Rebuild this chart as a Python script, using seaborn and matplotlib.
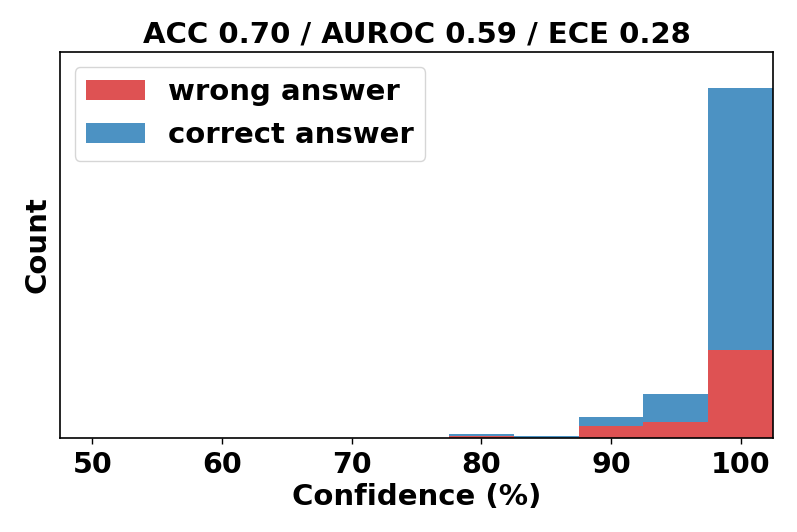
import matplotlib
matplotlib.use("Agg")
import matplotlib.pyplot as plt
import seaborn as sns
import pandas as pd
from matplotlib.patches import Patch

# Data (bin centers, counts)
bin_centers = [50, 55, 60, 65, 70, 75, 80, 85, 90, 95, 100]
wrong_counts = [0, 0, 0, 0, 0, 0, 5, 0, 34, 46, 251]
correct_counts = [0, 0, 0, 0, 0, 0, 6, 4, 26, 80, 749]
labels = ["wrong answer", "correct answer"]
title = "ACC 0.70 / AUROC 0.59 / ECE 0.28"
xticks = [50, 60, 70, 80, 90, 100]

df = pd.DataFrame({
    "conf": bin_centers * 2,
    "count": wrong_counts + correct_counts,
    "label": [labels[0]] * len(bin_centers) + [labels[1]] * len(bin_centers),
})

plt.rcParams["font.family"] = ["DejaVu Sans"]
plt.rcParams["font.weight"] = "bold"
plt.rcParams["text.color"] = "black"
plt.rcParams["axes.labelcolor"] = "black"
plt.rcParams["xtick.color"] = "black"

colors = {labels[0]: "tab:red", labels[1]: "tab:blue"}
FS = 21

fig, ax = plt.subplots(figsize=(7.97, 5.32), dpi=100)
sns.histplot(data=df, x="conf", weights="count", hue="label",
             hue_order=[labels[1], labels[0]],
             multiple="stack", binwidth=5, binrange=(47.5, 102.5),
             palette=colors, alpha=0.8, linewidth=0, ax=ax, legend=False)

ymax = max(w + c for w, c in zip(wrong_counts, correct_counts))
ax.set_ylim(0, ymax * 1.103)
ax.set_xlim(47.5, 102.5)
ax.set_yticks([])
ax.set_xticks(xticks)
ax.tick_params(axis="x", labelsize=FS - 0.5, width=1.0, length=4.5, pad=5)
for lbl in ax.get_xticklabels():
    lbl.set_fontweight("bold")
ax.set_xlabel("Confidence (%)", fontsize=FS, fontweight="bold", labelpad=3)
ax.set_ylabel("Count", fontsize=FS, fontweight="bold", labelpad=6)
ax.set_title(title, fontsize=FS, fontweight="bold", pad=7)
for s in ax.spines.values():
    s.set_visible(True)
    s.set_linewidth(1.2)
    s.set_color("black")

handles = [Patch(facecolor="tab:red", alpha=0.8, label=labels[0]),
           Patch(facecolor="tab:blue", alpha=0.8, label=labels[1])]
ax.legend(handles=handles, loc="upper left", prop={"size": FS, "weight": "bold"},
          frameon=True)

fig.subplots_adjust(left=0.0753, right=0.970, top=0.902, bottom=0.177)
fig.savefig("out.png", dpi=100)
